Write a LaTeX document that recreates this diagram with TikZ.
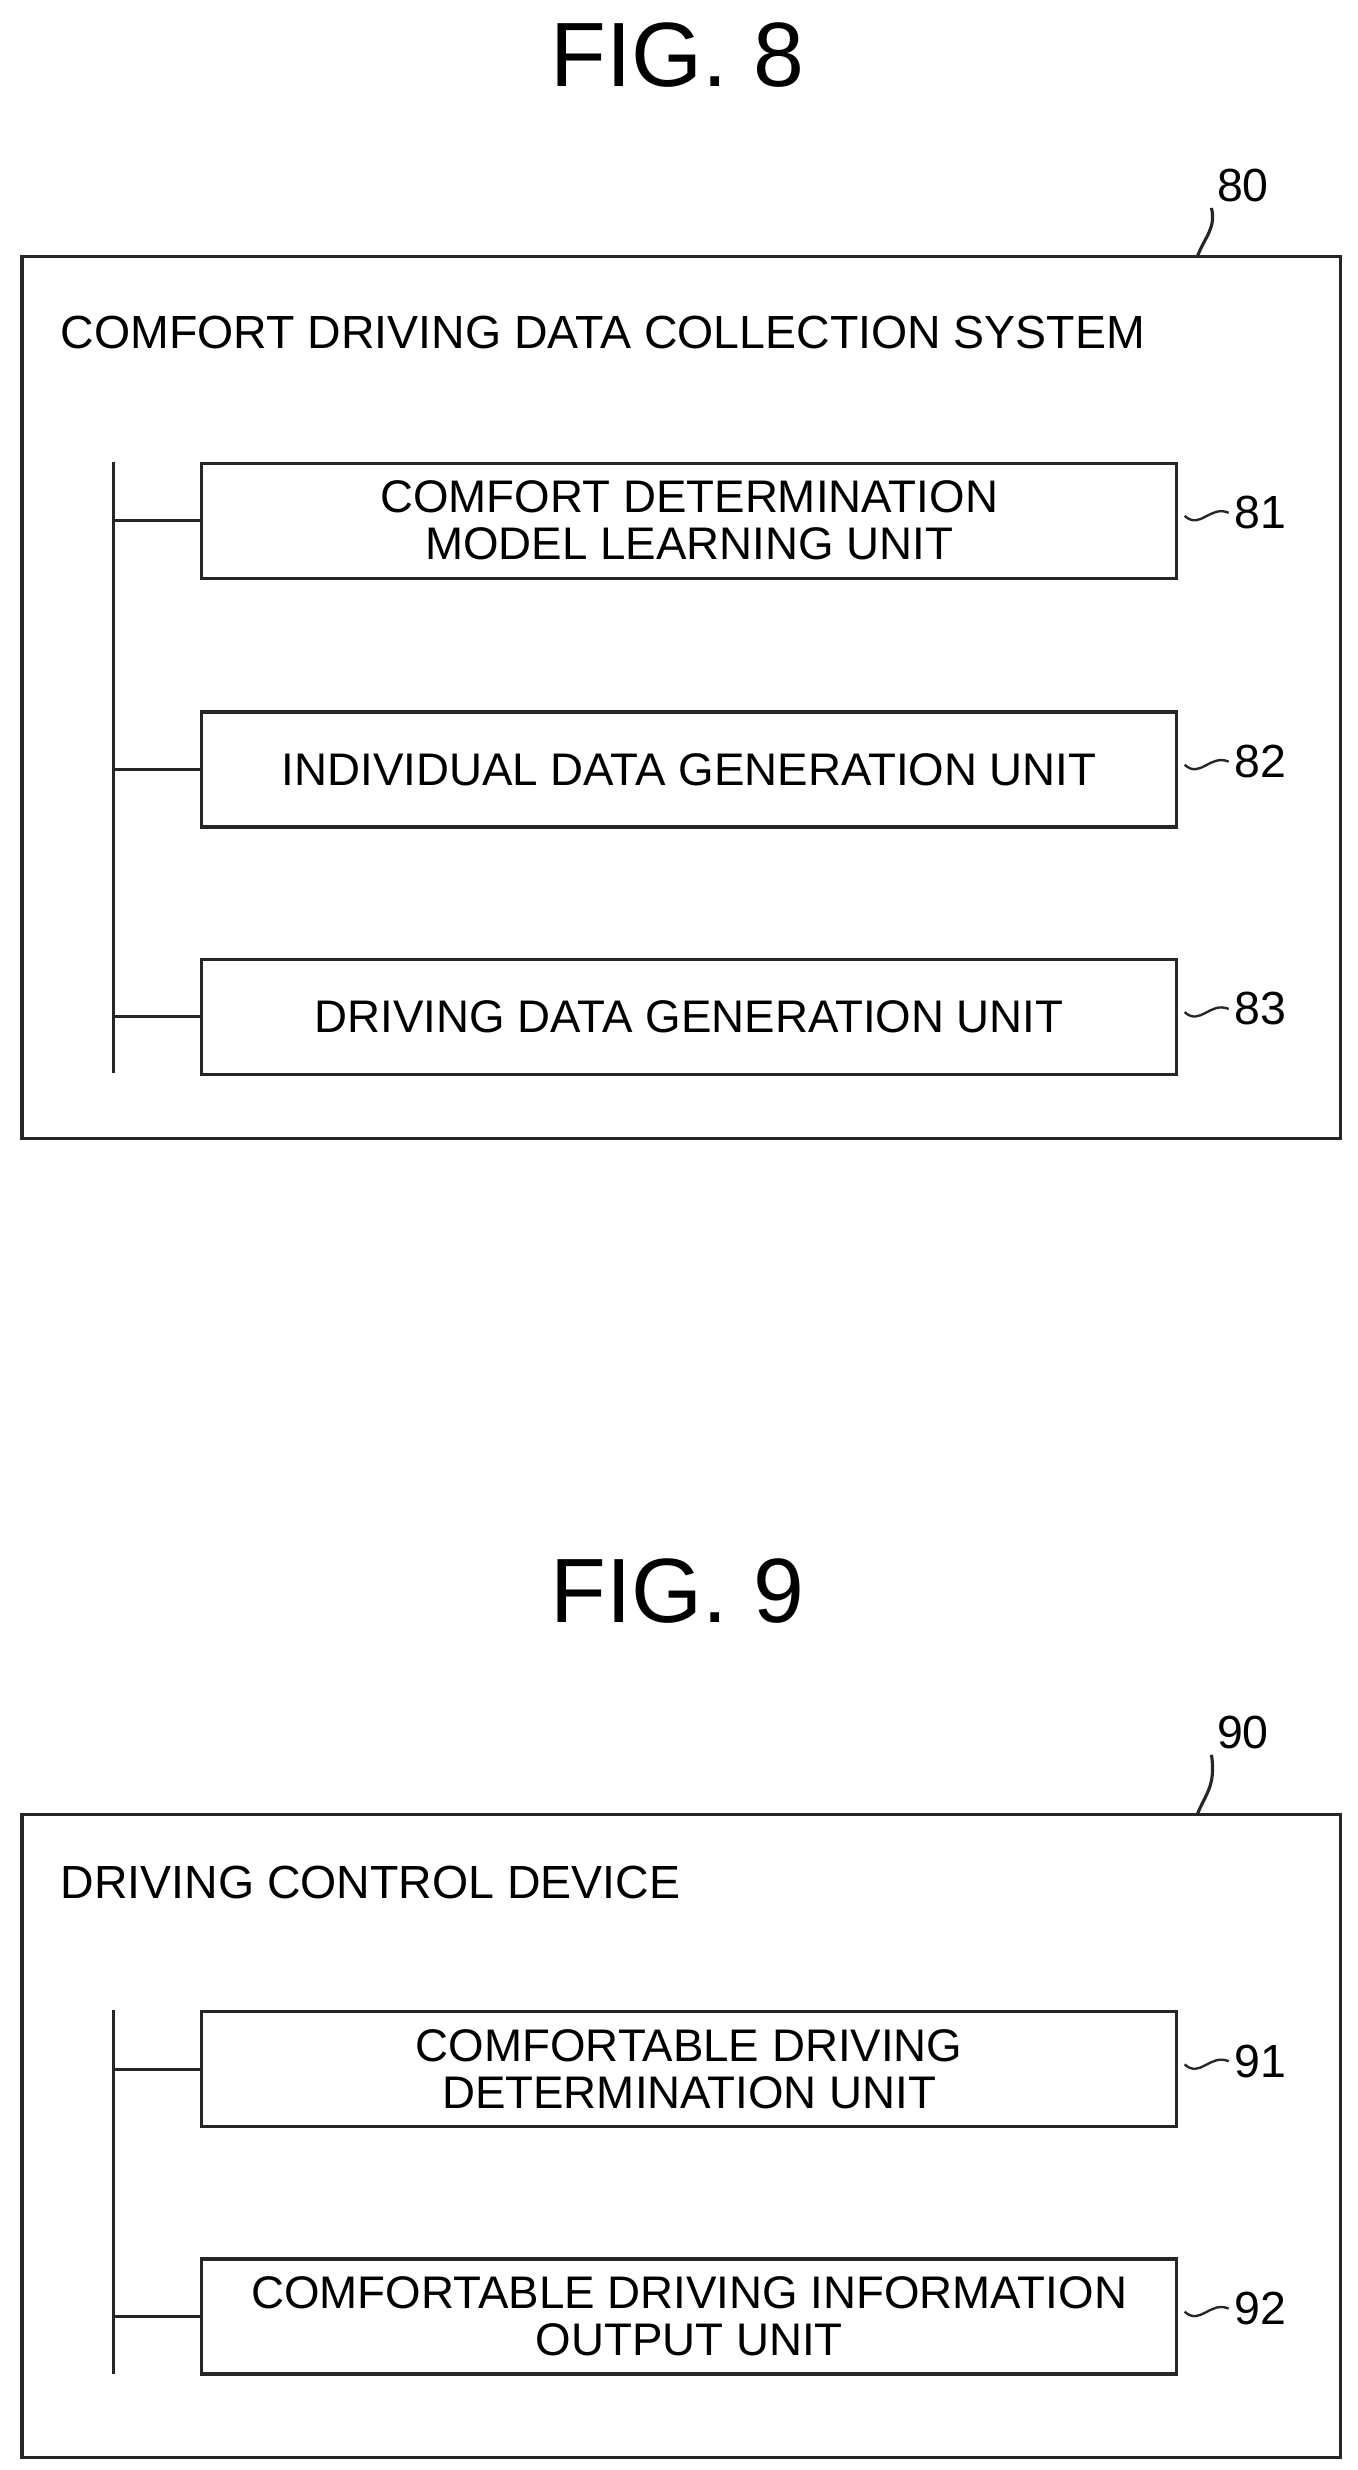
\documentclass[tikz,border=0pt]{standalone}
\usepackage{fontspec}
\setmainfont{Liberation Sans}
\begin{document}
\begin{tikzpicture}[x=1pt,y=-1pt,
  ln/.style={line width=2pt,draw=black!85},
  unit/.style={ln,minimum width=619pt,minimum height=73pt,inner sep=0pt,align=center,font=\fontsize{29}{30}\selectfont,anchor=north west},
  lbl/.style={font=\fontsize{29.5}{31}\selectfont},
  ttl/.style={font=\fontsize{58}{60}\selectfont}]
\useasboundingbox (0,0) rectangle (862,1568);
% FIG 8
\node[ttl] (t8) at (430,35) {FIG. 8};
\draw[ln] (14,163) rectangle (851,723);
\coordinate (c80) at (760,163);
\node[lbl] (n80) at (789,118) {80};
\draw[ln] (c80) .. controls (765,150) and (772,145) .. (n80.south west);
\node[lbl,anchor=west] (s80) at (35,211) {COMFORT DRIVING DATA COLLECTION SYSTEM};
\node[unit] (b81) at (127,293) {COMFORT DETERMINATION\\MODEL LEARNING UNIT};
\node[unit] (b82) at (127,451) {INDIVIDUAL DATA GENERATION UNIT};
\node[unit] (b83) at (127,608) {DRIVING DATA GENERATION UNIT};
\coordinate (bt8) at (72,293); \coordinate (bb8) at (72,681);
\draw[ln] (bt8) -- (bb8);
\foreach \b in {b81,b82,b83}{\draw[ln] (\b.west) -- (\b.west -| bt8);}
\foreach \b/\n in {b81/81,b82/82,b83/83}{
  \node[lbl,anchor=west] (l\n) at ([xshift=32pt,yshift=5pt]\b.east) {\n};
  \draw[ln,line width=1.5pt] ([xshift=4pt,yshift=3pt]\b.east) .. controls ([xshift=14pt,yshift=-6pt]\b.east) and ([xshift=20pt,yshift=10pt]\b.east) .. (l\n.west);}
% FIG 9
\node[ttl] (t9) at (430,1010) {FIG. 9};
\draw[ln] (14,1152) rectangle (851,1560);
\coordinate (c90) at (760,1152);
\node[lbl] (n90) at (789,1100) {90};
\draw[ln] (c90) .. controls (765,1139) and (772,1134) .. (n90.south west);
\node[lbl,anchor=west] (s90) at (35,1195) {DRIVING CONTROL DEVICE};
\node[unit] (b91) at (127,1276) {COMFORTABLE DRIVING\\DETERMINATION UNIT};
\node[unit] (b92) at (127,1433) {COMFORTABLE DRIVING INFORMATION\\OUTPUT UNIT};
\coordinate (bt9) at (72,1276); \coordinate (bb9) at (72,1507);
\draw[ln] (bt9) -- (bb9);
\foreach \b in {b91,b92}{\draw[ln] (\b.west) -- (\b.west -| bt9);}
\foreach \b/\n in {b91/91,b92/92}{
  \node[lbl,anchor=west] (l\n) at ([xshift=32pt,yshift=5pt]\b.east) {\n};
  \draw[ln,line width=1.5pt] ([xshift=4pt,yshift=3pt]\b.east) .. controls ([xshift=14pt,yshift=-6pt]\b.east) and ([xshift=20pt,yshift=10pt]\b.east) .. (l\n.west);}
\end{tikzpicture}
\end{document}
